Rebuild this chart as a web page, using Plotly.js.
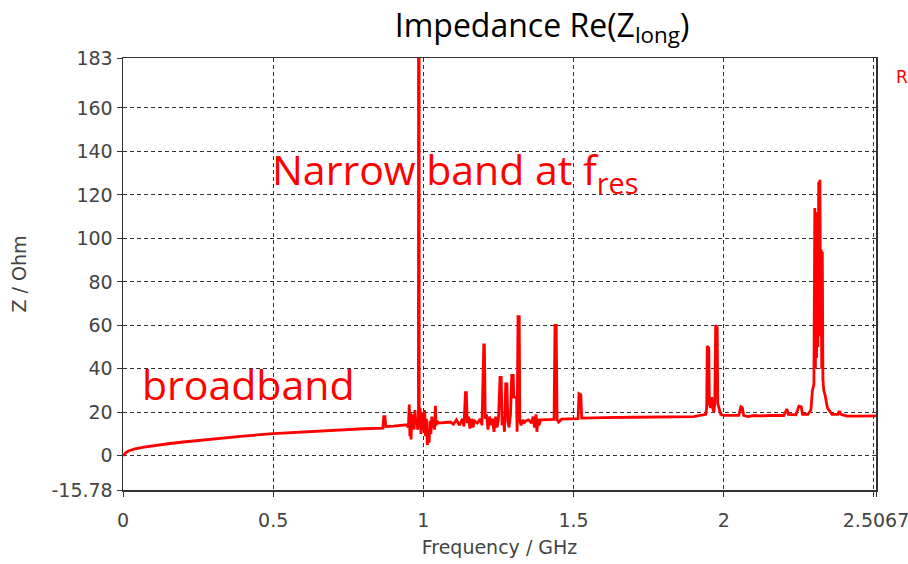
<!DOCTYPE html>
<html>
<head>
<meta charset="utf-8">
<script src="https://cdn.plot.ly/plotly-3.0.1.min.js"></script>
<style>html,body{margin:0;padding:0;background:#fff;}#chart{width:908px;height:564px;}</style>
</head>
<body>
<div id="chart"></div>
<script>
// Frequency (GHz) of each sample of Re(Z_long)
const freqGHz = [
  0, 0.005, 0.01, 0.02, 0.04, 0.07, 0.1, 0.15, 0.2, 0.3, 0.4, 0.5, 0.6, 0.7, 0.8, 0.865,
  0.868, 0.872, 0.875, 0.9, 0.93, 0.945, 0.95,
  0.953, 0.955, 0.957, 0.959, 0.961, 0.963, 0.966, 0.969, 0.972, 0.975, 0.978, 0.981, 0.9835,
  0.984, 0.9855, 0.986,
  0.989, 0.992, 0.995, 0.998, 1.001, 1.004, 1.007, 1.010, 1.013, 1.016, 1.019, 1.022, 1.025, 1.028,
  1.031, 1.034, 1.037, 1.040, 1.042, 1.046, 1.05, 1.07, 1.09, 1.1, 1.11, 1.12, 1.13, 1.135,
  1.140, 1.143, 1.146, 1.15, 1.155, 1.16, 1.165, 1.17, 1.18, 1.19, 1.195,
  1.201, 1.203, 1.206, 1.21, 1.215, 1.22, 1.225, 1.23, 1.235, 1.24, 1.245, 1.25,
  1.255, 1.259, 1.262, 1.266, 1.27,
  1.274, 1.278, 1.281, 1.285, 1.29,
  1.294, 1.299, 1.301, 1.310, 1.312,
  1.315, 1.319, 1.321, 1.325, 1.33, 1.335, 1.34, 1.35, 1.36, 1.365, 1.37, 1.375, 1.378, 1.381,
  1.385, 1.39, 1.40, 1.42, 1.435,
  1.438, 1.442, 1.445, 1.45, 1.46, 1.5, 1.515, 1.518, 1.524, 1.527, 1.55, 1.6, 1.7, 1.8, 1.9,
  1.940, 1.943, 1.945, 1.950, 1.952, 1.956, 1.960, 1.963, 1.967, 1.970, 1.973, 1.978, 1.980,
  1.984, 1.99, 2.0, 2.03, 2.05, 2.057, 2.062, 2.066, 2.08, 2.1, 2.12, 2.15, 2.18, 2.2, 2.21,
  2.215, 2.24, 2.25, 2.258, 2.262, 2.28, 2.29, 2.295,
  2.300, 2.303, 2.305, 2.307, 2.309, 2.311, 2.313, 2.316, 2.318, 2.320, 2.322, 2.324, 2.326,
  2.328, 2.330, 2.333, 2.337, 2.345, 2.36, 2.38, 2.385, 2.39, 2.41, 2.45, 2.5067
];
// Re(Z_long) in Ohm
const reZOhm = [
  0, 0.9, 1.5, 2.3, 3.1, 3.9, 4.6, 5.5, 6.3, 7.8, 9.0, 10.2, 11.0, 11.8, 12.4, 12.7,
  18, 18, 13.4, 13.6, 13.9, 14.2, 13.0,
  23.5, 9, 20, 7.5, 16, 13, 19, 12, 21, 15, 17, 12, 16,
  300, 300, 14,
  22, 10, 18, 20, 12, 21, 9, 17, 5, 12, 6, 16, 10, 18,
  13, 15, 12, 23, 14, 16, 15, 15.3, 15.5, 14.5, 16.5, 14, 17, 13.5,
  29, 29, 15, 18, 12.5, 17, 13, 16, 15, 17, 14,
  51, 51, 17, 19, 12, 18, 14, 17, 11, 18, 13, 17,
  36, 36, 14, 18, 11,
  33, 33, 16, 13, 19,
  37, 37, 27, 27, 11,
  64, 64, 16, 14, 16.5, 15, 16, 16.5, 15, 18, 13, 19, 11, 17,
  14, 16.5, 16.5, 16.6, 16.7,
  60, 60, 16.5, 15.5, 16.8, 16.9, 17, 28.5, 28, 17.3, 17.3, 17.5, 17.7, 17.9, 18,
  19, 22, 50.5, 49.5, 24, 22, 27, 22, 20, 24, 60, 59, 24,
  22, 19, 18.6, 18.4, 18.6, 22.5, 22, 18.5, 18, 18.5, 18.3, 18.5, 18.6, 18.5, 21.5,
  19, 18.8, 22.8, 22.5, 19, 19, 21, 30,
  33, 114, 40, 112, 45, 110, 50, 126, 55, 127, 60, 95, 40,
  94, 35, 30, 28, 22, 19, 19, 20.5, 19, 18.2, 18.2, 18.3
];
const yTickVals = [-15.78, 0, 20, 40, 60, 80, 100, 120, 140, 160, 183];
const yTickText = ['-15.78', '0', '20', '40', '60', '80', '100', '120', '140', '160', '183'];
const xTickVals = [0, 0.5, 1, 1.5, 2, 2.5, 2.5067];
const xTickText = ['0', '0.5', '1', '1.5', '2', '', '2.5067'];

const tickFont = {family: 'DejaVu Sans', size: 19, color: '#444'};
const axisCommon = {
  showline: true, mirror: true, linecolor: '#333', linewidth: 1.5,
  showgrid: true, gridcolor: '#333', gridwidth: 1, griddash: '4px,3px',
  zeroline: false, ticks: 'outside', ticklen: 5, tickcolor: '#333',
  tickfont: tickFont, ticklabeloverflow: 'allow'
};

const trace = {
  x: freqGHz, y: reZOhm, type: 'scatter', mode: 'lines',
  line: {color: '#ff0000', width: 2.8}, name: 'R', showlegend: false, hoverinfo: 'skip'
};

const layout = {
  width: 908, height: 564,
  margin: {l: 123, r: 32, t: 58, b: 74},
  paper_bgcolor: '#fff', plot_bgcolor: '#fff',
  title: {
    text: 'Impedance Re(Z<sub>long</sub>)',
    font: {family: 'Open Sans', size: 32, color: '#000'},
    x: 0.597, xref: 'container', xanchor: 'center',
    y: 0.955, yref: 'container', yanchor: 'middle'
  },
  xaxis: Object.assign({}, axisCommon, {
    range: [0, 2.5067], tickvals: xTickVals, ticktext: xTickText, ticklabelstandoff: 8,
    title: {text: 'Frequency / GHz', font: {family: 'DejaVu Sans', size: 19, color: '#444'}, standoff: 10}
  }),
  yaxis: Object.assign({}, axisCommon, {
    range: [-15.78, 183], tickvals: yTickVals, ticktext: yTickText,
    title: {text: 'Z / Ohm', font: {family: 'DejaVu Sans', size: 19, color: '#444'}, standoff: 20}
  }),
  annotations: [
    {text: 'Narrow band at f<sub>res</sub>', x: 0.49, y: 131, xref: 'x', yref: 'y',
     xanchor: 'left', yanchor: 'middle', showarrow: false,
     font: {family: 'Open Sans', size: 41, color: '#ff0000'}},
    {text: 'broadband', x: 0.055, y: 33, xref: 'x', yref: 'y',
     xanchor: 'left', yanchor: 'middle', showarrow: false,
     font: {family: 'Open Sans', size: 41, color: '#ff0000'}},
    {text: 'R', x: 1.035, y: 0.955, xref: 'paper', yref: 'paper',
     xanchor: 'center', yanchor: 'middle', showarrow: false,
     font: {family: 'DejaVu Sans', size: 17, color: '#ff0000'}}
  ]
};

Plotly.newPlot('chart', [trace], layout, {displayModeBar: false, staticPlot: true});
</script>
</body>
</html>
